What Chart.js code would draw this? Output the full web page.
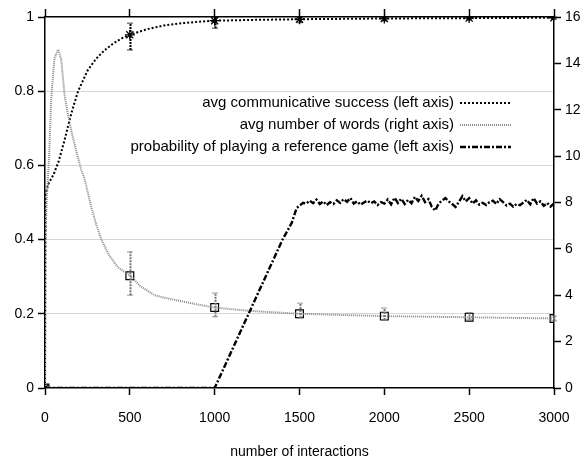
<!DOCTYPE html>
<html>
<head>
<meta charset="utf-8">
<script src="https://cdn.jsdelivr.net/npm/chart.js@4"></script>
<style>
  html, body { margin: 0; padding: 0; background: #fff; }
  #wrap { width: 587px; height: 460px; }
</style>
</head>
<body>
<div id="wrap"><canvas id="chart" width="587" height="460"></canvas></div>
<script>
// avg communicative success (left axis)
const commX = [0, 2, 20, 50, 80, 115, 155, 195, 250, 300, 350, 400, 450, 500, 600, 700, 800, 900, 1000, 1200, 1500, 2000, 2500, 3000];
const commY = [0, 0.52, 0.55, 0.575, 0.61, 0.668, 0.74, 0.8, 0.855, 0.887, 0.91, 0.928, 0.942, 0.952, 0.967, 0.977, 0.983, 0.987, 0.99, 0.992, 0.994, 0.996, 0.997, 0.998];

// avg number of words (right axis)
const wordsX = [0, 3, 8, 14, 24, 37, 55, 77, 95, 116, 135, 155, 185, 214, 234, 273, 300, 332, 380, 430, 503, 560, 646, 700, 784, 900, 1000, 1200, 1500, 1800, 2000, 2500, 3000];
const wordsY = [0, 6, 7.8, 8.7, 9.9, 12.5, 14.2, 14.6, 14.2, 12.6, 11.8, 11.1, 10.2, 9.4, 9.0, 7.8, 7.1, 6.4, 5.7, 5.2, 4.84, 4.4, 4.0, 3.9, 3.77, 3.6, 3.47, 3.33, 3.2, 3.14, 3.1, 3.05, 3.0];

// probability of playing a reference game (left axis)
const refX = [0, 1000, 1050, 1100, 1150, 1200, 1250, 1300, 1350, 1400, 1454, 1483, 1521,
  1540, 1560, 1580, 1600, 1620, 1640, 1660, 1680, 1700, 1720, 1740, 1760, 1780, 1800, 1820, 1840, 1860, 1880,
  1900, 1920, 1940, 1960, 1980, 2000, 2020, 2040, 2060, 2080, 2100, 2120, 2140, 2160, 2180, 2200, 2220, 2240,
  2260, 2280, 2300, 2320, 2340, 2360, 2380, 2400, 2420, 2440, 2460, 2480, 2500, 2520, 2540, 2560, 2580, 2600,
  2620, 2640, 2660, 2680, 2700, 2720, 2740, 2760, 2780, 2800, 2820, 2840, 2860, 2880, 2900, 2920, 2940, 2960,
  2980, 3000];
const refY = [0, 0, 0.05, 0.1, 0.15, 0.2, 0.25, 0.3, 0.35, 0.4, 0.445, 0.485, 0.499,
  0.497, 0.505, 0.498, 0.508, 0.496, 0.503, 0.493, 0.501, 0.496, 0.506, 0.499, 0.509, 0.502, 0.512, 0.497, 0.503, 0.494, 0.5,
  0.505, 0.498, 0.503, 0.493, 0.501, 0.497, 0.508, 0.495, 0.513, 0.499, 0.51, 0.496, 0.507, 0.498, 0.515, 0.504, 0.518, 0.501,
  0.509, 0.488, 0.478, 0.497, 0.505, 0.512, 0.503, 0.496, 0.488, 0.502, 0.517, 0.503, 0.512, 0.497, 0.506, 0.494, 0.499, 0.493,
  0.501, 0.505, 0.496, 0.509, 0.501, 0.492, 0.497, 0.489, 0.496, 0.493, 0.5, 0.507, 0.495, 0.512, 0.497, 0.503, 0.491, 0.499,
  0.489, 0.498];

// markers and error bars
const commMarkX = [0, 500, 1000, 1500, 2000, 2500, 3000];
const commMarkY = [0, 0.952, 0.99, 0.994, 0.996, 0.997, 0.998];
const commErrLo = [0, 0.911, 0.97, 0.985, 0.99, 0.992, 0.994];
const commErrHi = [0, 0.983, 1.0, 1.0, 1.0, 1.0, 1.0];

const wordsMarkX = [0, 500, 1000, 1500, 2000, 2500, 3000];
const wordsMarkY = [0, 4.84, 3.47, 3.2, 3.1, 3.05, 3.0];
const wordsErrLo = [0, 4.0, 3.07, 3.02, 2.93, 2.95, 2.9];
const wordsErrHi = [0, 5.88, 4.1, 3.66, 3.45, 3.25, 3.1];

const xTicks = [0, 500, 1000, 1500, 2000, 2500, 3000];
const leftTicks = [0, 0.2, 0.4, 0.6, 0.8, 1];
const rightTicks = [0, 2, 4, 6, 8, 10, 12, 14, 16];

const legendItems = [
  { text: 'avg communicative success (left axis)', color: '#000', width: 2, dash: [2, 2] },
  { text: 'avg number of words (right axis)', color: '#888', width: 2, dash: [1, 1] },
  { text: 'probability of playing a reference game (left axis)', color: '#000', width: 2.4, dash: [6, 2, 2, 2] }
];

const FONT = '"Liberation Sans", Arial, Helvetica, sans-serif';
const zip = (xs, ys) => xs.map((x, i) => ({ x: x, y: ys[i] }));

// error bars + in-plot legend
const extras = {
  id: 'extras',
  afterDatasetsDraw(chart) {
    const ctx = chart.ctx;
    const xs = chart.scales.x, yl = chart.scales.y, yr = chart.scales.y2;
    const bar = (x, lo, hi, scale, color, w) => {
      const px = Math.round(xs.getPixelForValue(x)) + 0.5;
      const p1 = scale.getPixelForValue(lo), p2 = scale.getPixelForValue(hi);
      if (Math.abs(p1 - p2) < 1) return;
      ctx.save();
      ctx.strokeStyle = color;
      ctx.lineWidth = w;
      ctx.setLineDash([2, 1]);
      ctx.beginPath();
      ctx.moveTo(px, p1); ctx.lineTo(px, p2);
      ctx.stroke();
      ctx.setLineDash([1, 1]);
      ctx.lineWidth = 1.5;
      ctx.beginPath();
      ctx.moveTo(px - 3, p1); ctx.lineTo(px + 3, p1);
      ctx.moveTo(px - 3, p2); ctx.lineTo(px + 3, p2);
      ctx.stroke();
      ctx.restore();
    };
    commMarkX.forEach((x, i) => bar(x, commErrLo[i], commErrHi[i], yl, '#000', 2));
    wordsMarkX.forEach((x, i) => bar(x, wordsErrLo[i], wordsErrHi[i], yr, '#777', 2));

    const textRight = 454, lineL = 460, lineR = 511;
    const rows = [103, 125, 147];
    ctx.save();
    ctx.font = '15px ' + FONT;
    ctx.textAlign = 'right';
    ctx.textBaseline = 'middle';
    legendItems.forEach((it, i) => {
      ctx.fillStyle = '#000';
      ctx.fillText(it.text, textRight, rows[i]);
      ctx.strokeStyle = it.color;
      ctx.lineWidth = it.width;
      ctx.setLineDash(it.dash);
      ctx.beginPath();
      ctx.moveTo(lineL, rows[i]);
      ctx.lineTo(lineR, rows[i]);
      ctx.stroke();
    });
    ctx.restore();
  }
};

const fixSize = (w, h) => scale => {
  if (w !== null) scale.width = w;
  if (h !== null) scale.height = h;
};
const plain = v => String(v);

new Chart(document.getElementById('chart'), {
  type: 'scatter',
  data: {
    datasets: [
      {
        data: zip(refX, refY), yAxisID: 'y', showLine: true,
        borderColor: '#000', borderWidth: 2.4, borderDash: [6, 2, 2, 2], pointRadius: 0, fill: false
      },
      {
        data: zip(wordsX, wordsY), yAxisID: 'y2', showLine: true,
        borderColor: '#888', borderWidth: 2, borderDash: [1, 1], pointRadius: 0, fill: false
      },
      {
        data: zip(commX, commY), yAxisID: 'y', showLine: true,
        borderColor: '#000', borderWidth: 2, borderDash: [2, 2], pointRadius: 0, fill: false
      },
      {
        data: zip(wordsMarkX, wordsMarkY), yAxisID: 'y2', showLine: false,
        pointStyle: 'rect', pointRadius: 5.5, borderColor: '#000', borderWidth: 1.2,
        backgroundColor: 'rgba(0,0,0,0)'
      },
      {
        data: zip(commMarkX, commMarkY), yAxisID: 'y', showLine: false,
        pointStyle: 'star', pointRadius: 5, borderColor: '#000', borderWidth: 1.3,
        backgroundColor: 'rgba(0,0,0,0)'
      }
    ]
  },
  options: {
    responsive: false,
    animation: false,
    layout: { padding: 0 },
    plugins: { legend: { display: false }, tooltip: { enabled: false } },
    scales: {
      x: {
        type: 'linear', position: 'bottom', min: 0, max: 3000,
        afterBuildTicks: s => { s.ticks = xTicks.map(v => ({ value: v })); },
        ticks: { color: '#000', font: { family: FONT, size: 14 }, padding: 15, maxRotation: 0, callback: plain },
        grid: { drawOnChartArea: false, tickLength: 7, tickColor: '#000', tickWidth: 1.5 },
        border: { color: '#000', width: 1.5 },
        title: { display: true, text: 'number of interactions', color: '#000', font: { family: FONT, size: 14 }, padding: { top: 0, bottom: -1 } },
        afterFit: fixSize(null, 72)
      },
      x2: {
        type: 'linear', position: 'top', min: 0, max: 3000,
        afterBuildTicks: s => { s.ticks = xTicks.map(v => ({ value: v })); },
        ticks: { display: false },
        grid: { drawOnChartArea: false, tickLength: 8, tickColor: '#000', tickWidth: 1.5 },
        border: { color: '#000', width: 1.5 },
        afterFit: fixSize(null, 17)
      },
      y: {
        type: 'linear', position: 'left', min: 0, max: 1,
        afterBuildTicks: s => { s.ticks = leftTicks.map(v => ({ value: v })); },
        ticks: { color: '#000', font: { family: FONT, size: 14 }, padding: 4, callback: plain },
        grid: {
          color: c => (c.tick && (c.tick.value === 0 || c.tick.value === 1)) ? 'rgba(0,0,0,0)' : '#d6d6d6',
          tickColor: '#000', tickLength: 7, tickWidth: 1.5, lineWidth: 1
        },
        border: { color: '#000', width: 1.5 },
        afterFit: fixSize(45, null)
      },
      y2: {
        type: 'linear', position: 'right', min: 0, max: 16,
        afterBuildTicks: s => { s.ticks = rightTicks.map(v => ({ value: v })); },
        ticks: { color: '#000', font: { family: FONT, size: 14 }, padding: 4, callback: plain },
        grid: { drawOnChartArea: false, tickColor: '#000', tickLength: 7, tickWidth: 1.5 },
        border: { color: '#000', width: 1.5 },
        afterFit: fixSize(33, null)
      }
    }
  },
  plugins: [extras]
});
</script>
</body>
</html>
